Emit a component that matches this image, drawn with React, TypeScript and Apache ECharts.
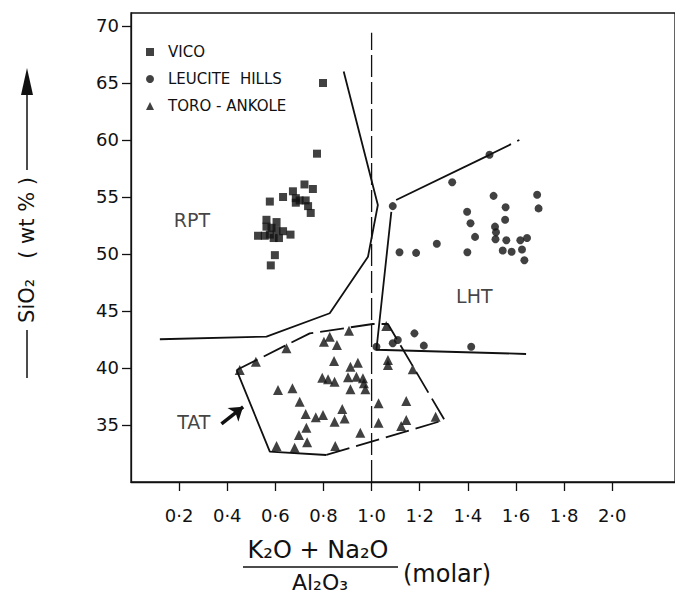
import React, { useEffect, useRef } from "react";
import * as echarts from "echarts";

const FONT = "DejaVu Sans";
const INK = "#111";

const xTicks = [0.2, 0.4, 0.6, 0.8, 1.0, 1.2, 1.4, 1.6, 1.8, 2.0];
const yTicks = [35, 40, 45, 50, 55, 60, 65, 70];

const vico: number[][] = [
  [0.798, 65.0], [0.773, 58.8], [0.721, 56.1], [0.756, 55.7], [0.673, 55.5], [0.632, 55.0],
  [0.685, 54.9], [0.701, 54.7], [0.726, 54.7], [0.685, 54.5], [0.736, 54.2], [0.747, 53.6],
  [0.577, 54.6], [0.563, 53.0], [0.605, 52.8], [0.563, 52.4], [0.584, 52.3], [0.605, 52.1],
  [0.632, 52.0], [0.663, 51.7], [0.528, 51.6], [0.556, 51.6], [0.577, 51.7], [0.615, 51.4],
  [0.593, 51.4], [0.598, 49.9], [0.581, 49.0],
];

const leuciteHills: number[][] = [
  [1.335, 56.3], [1.507, 55.1], [1.688, 55.2], [1.557, 54.1], [1.694, 54.0], [1.397, 53.7],
  [1.555, 53.0], [1.411, 52.7], [1.513, 52.4], [1.517, 51.9], [1.43, 51.5], [1.515, 51.3],
  [1.56, 51.2], [1.618, 51.2], [1.646, 51.4], [1.271, 50.9], [1.116, 50.15], [1.185, 50.1],
  [1.398, 50.15], [1.545, 50.3], [1.582, 50.2], [1.625, 50.4], [1.635, 49.45], [1.088, 54.2],
  [1.49, 58.7], [1.02, 41.87], [1.088, 42.17], [1.109, 42.46], [1.178, 43.04], [1.217, 41.96],
  [1.414, 41.87],
];

const toroAnkole: number[][] = [
  [0.906, 43.27], [1.061, 43.68], [0.826, 42.75], [0.802, 42.31], [0.856, 42.02], [0.646, 41.73],
  [0.519, 40.55], [0.452, 39.82], [0.844, 40.61], [0.912, 40.11], [0.943, 40.46], [1.068, 40.7],
  [1.068, 40.26], [1.171, 39.88], [0.795, 39.15], [0.819, 39.01], [0.846, 38.8], [0.902, 39.18],
  [0.937, 39.24], [0.964, 39.1], [0.968, 38.66], [0.912, 38.13], [0.974, 38.13], [0.611, 38.07],
  [0.671, 38.22], [0.701, 37.04], [0.726, 35.96], [0.768, 35.67], [0.798, 35.88], [0.878, 36.4],
  [0.846, 35.29], [0.888, 35.58], [1.029, 36.9], [1.144, 37.11], [1.029, 35.2], [1.123, 34.91],
  [1.144, 35.44], [1.266, 35.73], [0.729, 34.76], [0.698, 34.12], [0.732, 33.48], [0.953, 34.32],
  [0.605, 33.16], [0.68, 33.01], [0.849, 33.16],
];

const rptBoundary: number[][] = [
  [0.884, 66.0], [1.026, 54.3], [0.985, 49.76], [0.826, 44.8], [0.563, 42.75], [0.12, 42.52],
];
const lhtBoundary: number[][] = [[1.082, 53.7], [1.02, 41.6], [1.642, 41.23]];
const lhtUpper: number[][] = [[1.102, 54.74], [1.49, 58.7]];
const lhtUpperDashed: number[][] = [[1.49, 58.7], [1.614, 60.0]];
const unityLine: number[][] = [[1.0, 30], [1.0, 69.4]];
const tatSolid: number[][] = [[0.439, 39.82], [0.577, 32.66], [0.812, 32.37]];
const tatDashed: number[][] = [
  [0.812, 32.37], [1.303, 35.44], [1.068, 43.86], [1.005, 43.86], [0.743, 43.04], [0.439, 39.82],
];
const tatArrow: number[][] = [[0.376, 35.09], [0.466, 36.6]];
const fieldLabels: { name: string; value: number[] }[] = [
  { name: "RPT", value: [0.253, 52.98] },
  { name: "LHT", value: [1.427, 46.34] },
  { name: "TAT", value: [0.261, 35.26] },
];

const lineSeries = (data: number[][], dashed: boolean, width = 1.8) => ({
  type: "line",
  data,
  symbol: "none",
  silent: true,
  z: 1,
  lineStyle: { color: INK, width, type: dashed ? [24, 7] : "solid" },
});

export default function App() {
  const ref = useRef<HTMLDivElement>(null);
  useEffect(() => {
    if (!ref.current) return;
    const chart = echarts.init(ref.current, null, { renderer: "svg" });
    const option: any = {
      animation: false,
      backgroundColor: "#fff",
      textStyle: { fontFamily: FONT },
      grid: {
        left: 131, top: 13, width: 545, height: 469,
        show: true, borderColor: INK, borderWidth: 1.3,
      },
      legend: {
        orient: "vertical",
        left: 141,
        top: 38,
        itemWidth: 8,
        itemHeight: 8,
        itemGap: 9,
        selectedMode: false,
        textStyle: { fontSize: 15, color: INK, fontFamily: FONT, padding: [0, 0, 0, 9], lineHeight: 18 },
        data: [
          { name: "VICO", icon: "rect" },
          { name: "LEUCITE  HILLS", icon: "circle" },
          { name: "TORO - ANKOLE", icon: "triangle" },
        ],
      },
      xAxis: {
        type: "value",
        min: 0,
        max: 2.261,
        axisLine: { show: true, onZero: false, lineStyle: { color: INK, width: 1.3 } },
        axisTick: { show: true, customValues: xTicks, length: 9, lineStyle: { color: INK, width: 1.3 } },
        axisLabel: {
          customValues: xTicks,
          formatter: (v: number) => v.toFixed(1).replace(".", "·"),
          fontSize: 18, color: INK, margin: 24, fontFamily: FONT,
        },
        splitLine: { show: false },
      },
      yAxis: {
        type: "value",
        min: 30,
        max: 71.14,
        axisLine: { show: true, onZero: false, lineStyle: { color: INK, width: 1.3 } },
        axisTick: { show: true, customValues: yTicks, length: 9, lineStyle: { color: INK, width: 1.3 } },
        axisLabel: {
          customValues: yTicks,
          fontSize: 18, color: INK, margin: 12, fontFamily: FONT,
        },
        splitLine: { show: false },
      },
      series: [
        { name: "VICO", type: "scatter", symbol: "rect", symbolSize: 8, data: vico, itemStyle: { color: INK }, z: 3 },
        { name: "LEUCITE  HILLS", type: "scatter", symbol: "circle", symbolSize: 8, data: leuciteHills, itemStyle: { color: INK }, z: 3 },
        { name: "TORO - ANKOLE", type: "scatter", symbol: "triangle", symbolSize: 10, data: toroAnkole, itemStyle: { color: INK }, z: 3 },
        lineSeries(rptBoundary, false),
        lineSeries(lhtBoundary, false),
        lineSeries(lhtUpper, false),
        lineSeries(lhtUpperDashed, true),
        { ...lineSeries(unityLine, true, 1.3), lineStyle: { color: INK, width: 1.3, type: [22, 5] } },
        lineSeries(tatSolid, false),
        lineSeries(tatDashed, true),
        {
          type: "lines",
          coordinateSystem: "cartesian2d",
          silent: true,
          symbol: ["none", "arrow"],
          symbolSize: 13,
          lineStyle: { color: INK, width: 3.5, opacity: 1 },
          data: [{ coords: tatArrow }],
          z: 2,
        },
        {
          type: "scatter",
          symbolSize: 0,
          silent: true,
          data: fieldLabels,
          label: {
            show: true,
            position: "inside",
            formatter: (p: any) => p.name,
            fontSize: 19,
            color: INK,
            fontFamily: FONT,
          },
        },
      ],
      graphic: [
        {
          type: "text",
          x: 27, y: 250, rotation: Math.PI / 2,
          style: { text: "SiO₂   ( wt % )", fontSize: 21, fontFamily: FONT, fill: INK, align: "center", verticalAlign: "middle" },
        },
        { type: "line", shape: { x1: 27, y1: 330, x2: 27, y2: 378 }, style: { stroke: INK, lineWidth: 1.5 } },
        { type: "line", shape: { x1: 27, y1: 92, x2: 27, y2: 170 }, style: { stroke: INK, lineWidth: 1.5 } },
        { type: "polygon", shape: { points: [[27, 68], [21, 95], [33, 95]] }, style: { fill: INK } },
        {
          type: "text",
          x: 318, y: 550,
          style: { text: "K₂O + Na₂O", fontSize: 24, fontFamily: FONT, fill: INK, align: "center", verticalAlign: "middle" },
        },
        { type: "line", shape: { x1: 243, y1: 567, x2: 398, y2: 567 }, style: { stroke: INK, lineWidth: 1.5 } },
        {
          type: "text",
          x: 320, y: 582,
          style: { text: "Al₂O₃", fontSize: 22, fontFamily: FONT, fill: INK, align: "center", verticalAlign: "middle" },
        },
        {
          type: "text",
          x: 403, y: 574,
          style: { text: "(molar)", fontSize: 24, fontFamily: FONT, fill: INK, align: "left", verticalAlign: "middle" },
        },
      ],
    };
    chart.setOption(option);
    return () => chart.dispose();
  }, []);
  return <div ref={ref} style={{ position: "absolute", left: 0, top: 0, width: 675, height: 596 }} />;
}
